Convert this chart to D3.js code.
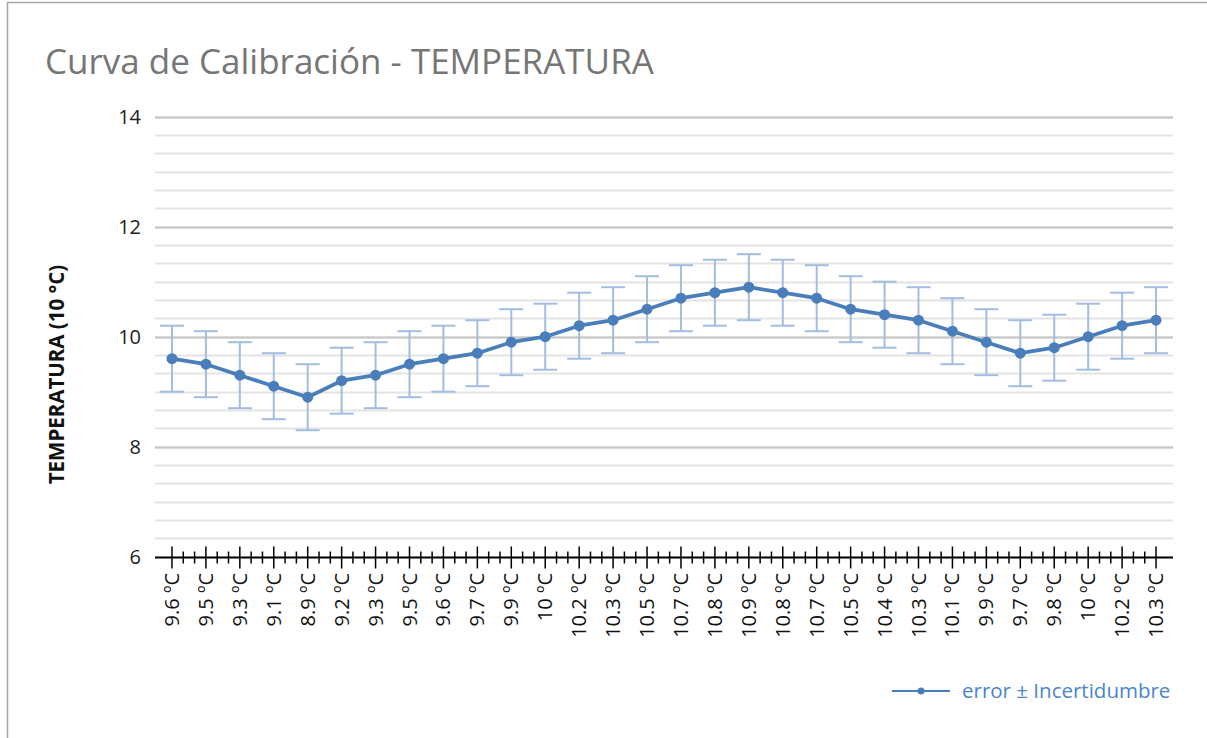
<!DOCTYPE html>
<html>
<head>
<meta charset="utf-8">
<script src="https://cdn.jsdelivr.net/npm/d3@7"></script>
<style>
  body { margin: 0; background: #fff; }
  text { font-family: "Open Sans", sans-serif; }
</style>
</head>
<body>
<script>
// Data
const categories = ["9.6 ºC", "9.5 ºC", "9.3 ºC", "9.1 ºC", "8.9 ºC", "9.2 ºC", "9.3 ºC", "9.5 ºC",
  "9.6 ºC", "9.7 ºC", "9.9 ºC", "10 ºC", "10.2 ºC", "10.3 ºC", "10.5 ºC", "10.7 ºC", "10.8 ºC",
  "10.9 ºC", "10.8 ºC", "10.7 ºC", "10.5 ºC", "10.4 ºC", "10.3 ºC", "10.1 ºC", "9.9 ºC", "9.7 ºC",
  "9.8 ºC", "10 ºC", "10.2 ºC", "10.3 ºC"];
const values = [9.6, 9.5, 9.3, 9.1, 8.9, 9.2, 9.3, 9.5, 9.6, 9.7, 9.9, 10, 10.2, 10.3, 10.5, 10.7, 10.8,
  10.9, 10.8, 10.7, 10.5, 10.4, 10.3, 10.1, 9.9, 9.7, 9.8, 10, 10.2, 10.3];
const uncertainty = 0.6;
const yTicks = [6, 8, 10, 12, 14];

const W = 1207, H = 738;
const plot = { left: 155, right: 1173, top: 116.7, bottom: 556.7 };

const svg = d3.select("body").append("svg")
  .attr("width", W)
  .attr("height", H);

// chart frame (only top and left edges visible)
svg.append("rect")
  .attr("x", 7.5).attr("y", 2.5)
  .attr("width", W + 20).attr("height", H + 20)
  .attr("fill", "none")
  .attr("stroke", "#a6a6a6")
  .attr("stroke-width", 1.5);

// title
svg.append("text")
  .attr("x", 45).attr("y", 74)
  .attr("font-size", 35)
  .attr("fill", "#767676")
  .text("Curva de Calibración - TEMPERATURA");

const x = d3.scaleBand()
  .domain(d3.range(categories.length))
  .range([plot.left, plot.right]);

const y = d3.scaleLinear()
  .domain([6, 14])
  .range([plot.bottom, plot.top]);

// minor gridlines
const minor = d3.range(6, 14.001, 2 / 6);
svg.append("g").selectAll("line")
  .data(minor)
  .join("line")
  .attr("x1", plot.left).attr("x2", plot.right)
  .attr("y1", d => Math.round(y(d)) + 0.5)
  .attr("y2", d => Math.round(y(d)) + 0.5)
  .attr("stroke", "#e3e3e3")
  .attr("stroke-width", 2);

// major gridlines
svg.append("g").selectAll("line")
  .data(yTicks.filter(d => d > 6))
  .join("line")
  .attr("x1", plot.left).attr("x2", plot.right)
  .attr("y1", d => Math.round(y(d)) + 0.5)
  .attr("y2", d => Math.round(y(d)) + 0.5)
  .attr("stroke", "#c6c6c6")
  .attr("stroke-width", 2);

// y axis tick labels
svg.append("g").selectAll("text")
  .data(yTicks)
  .join("text")
  .attr("x", 141)
  .attr("y", d => y(d))
  .attr("dy", "0.35em")
  .attr("text-anchor", "end")
  .attr("font-size", 20)
  .attr("fill", "#222")
  .text(d => d);

// y axis title
svg.append("text")
  .attr("transform", `translate(64,374.5) rotate(-90)`)
  .attr("text-anchor", "middle")
  .attr("font-size", 20.5)
  .attr("font-weight", "bold")
  .attr("fill", "#111")
  .text("TEMPERATURA (10 °C)");

// x axis line and ticks
const bw = x.bandwidth();
const axisY = Math.round(y(6)) + 0.5;
const gx = svg.append("g");
gx.append("line")
  .attr("x1", plot.left).attr("x2", plot.right)
  .attr("y1", axisY).attr("y2", axisY)
  .attr("stroke", "#000").attr("stroke-width", 2);

const centers = categories.map((c, i) => x(i) + bw / 2);
gx.selectAll(".major")
  .data(centers)
  .join("line")
  .attr("class", "major")
  .attr("x1", d => d).attr("x2", d => d)
  .attr("y1", axisY - 11).attr("y2", axisY + 11)
  .attr("stroke", "#000").attr("stroke-width", 1.5);

const minorX = [];
centers.slice(0, -1).forEach(c => { minorX.push(c + bw / 3, c + 2 * bw / 3); });
gx.selectAll(".minor")
  .data(minorX)
  .join("line")
  .attr("class", "minor")
  .attr("x1", d => d).attr("x2", d => d)
  .attr("y1", axisY - 6).attr("y2", axisY + 6)
  .attr("stroke", "#000").attr("stroke-width", 1.5);

// x tick labels
gx.selectAll("text")
  .data(categories)
  .join("text")
  .attr("transform", (d, i) => `translate(${centers[i]},573) rotate(-90)`)
  .attr("dy", "0.35em")
  .attr("text-anchor", "end")
  .attr("font-size", 20)
  .attr("fill", "#111")
  .text(d => d);

// error bars
const errColor = "#a2bde1";
const eb = svg.append("g");
values.forEach((v, i) => {
  const cx = centers[i];
  eb.append("line")
    .attr("x1", cx).attr("x2", cx)
    .attr("y1", y(v + uncertainty)).attr("y2", y(v - uncertainty))
    .attr("stroke", errColor).attr("stroke-width", 2);
  [v + uncertainty, v - uncertainty].forEach(e => {
    eb.append("line")
      .attr("x1", cx - 12).attr("x2", cx + 12)
      .attr("y1", y(e)).attr("y2", y(e))
      .attr("stroke", errColor).attr("stroke-width", 2);
  });
});

// main line
const lineColor = "#4a7ebb";
svg.append("path")
  .datum(values)
  .attr("fill", "none")
  .attr("stroke", lineColor)
  .attr("stroke-width", 3.75)
  .attr("stroke-linejoin", "round")
  .attr("d", d3.line().x((d, i) => centers[i]).y(d => y(d)));

svg.append("g").selectAll("circle")
  .data(values)
  .join("circle")
  .attr("cx", (d, i) => centers[i])
  .attr("cy", d => y(d))
  .attr("r", 5.5)
  .attr("fill", lineColor);

// legend
const lg = svg.append("g");
lg.append("line")
  .attr("x1", 892).attr("x2", 950)
  .attr("y1", 691).attr("y2", 691)
  .attr("stroke", lineColor).attr("stroke-width", 2);
lg.append("circle")
  .attr("cx", 921).attr("cy", 691).attr("r", 3.5)
  .attr("fill", lineColor);
lg.append("text")
  .attr("x", 962).attr("y", 691)
  .attr("dy", "0.35em")
  .attr("font-size", 20.5)
  .attr("fill", "#4a86c8")
  .text("error ± Incertidumbre");
</script>
</body>
</html>
